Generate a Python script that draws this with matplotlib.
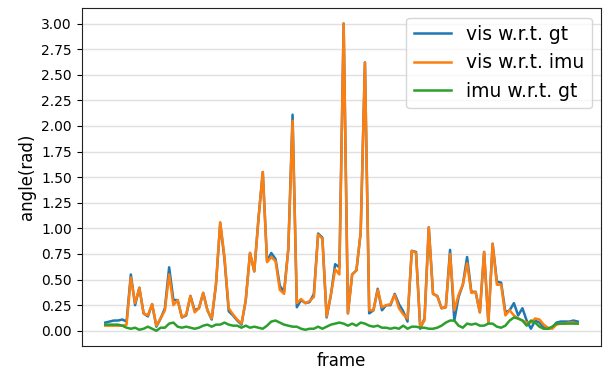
import numpy as np
import matplotlib.pyplot as plt

# rotation error per frame (rad)
vis_gt = [0.08, 0.09, 0.10, 0.10, 0.11, 0.09, 0.55, 0.25, 0.42, 0.17,
          0.14, 0.26, 0.04, 0.12, 0.22, 0.62, 0.30, 0.30, 0.13, 0.15,
          0.34, 0.20, 0.22, 0.37, 0.20, 0.11, 0.45, 1.05, 0.70, 0.19,
          0.15, 0.10, 0.06, 0.30, 0.76, 0.58, 1.10, 1.55, 0.68, 0.76,
          0.70, 0.44, 0.38, 0.80, 2.11, 0.23, 0.30, 0.27, 0.28, 0.36,
          0.95, 0.91, 0.13, 0.35, 0.65, 0.62, 3.00, 0.17, 0.55, 0.59,
          0.96, 2.62, 0.17, 0.20, 0.41, 0.20, 0.25, 0.25, 0.36, 0.26,
          0.19, 0.09, 0.78, 0.77, 0.02, 0.12, 1.01, 0.36, 0.34, 0.22,
          0.23, 0.79, 0.10, 0.33, 0.45, 0.72, 0.38, 0.38, 0.18, 0.77,
          0.08, 0.85, 0.48, 0.47, 0.18, 0.20, 0.27, 0.15, 0.22, 0.10,
          0.02, 0.10, 0.08, 0.03, 0.02, 0.03, 0.08, 0.09, 0.09, 0.09,
          0.10, 0.09]
vis_imu = [0.05, 0.05, 0.05, 0.05, 0.05, 0.06, 0.52, 0.27, 0.42, 0.17,
           0.15, 0.26, 0.05, 0.12, 0.20, 0.55, 0.25, 0.30, 0.13, 0.16,
           0.34, 0.18, 0.22, 0.37, 0.20, 0.12, 0.45, 1.06, 0.72, 0.22,
           0.16, 0.11, 0.07, 0.30, 0.76, 0.58, 1.10, 1.55, 0.67, 0.72,
           0.68, 0.40, 0.36, 0.80, 2.05, 0.27, 0.31, 0.27, 0.29, 0.33,
           0.94, 0.90, 0.14, 0.35, 0.60, 0.55, 3.00, 0.17, 0.55, 0.59,
           0.96, 2.62, 0.20, 0.20, 0.40, 0.23, 0.25, 0.26, 0.35, 0.22,
           0.16, 0.12, 0.78, 0.76, 0.04, 0.10, 1.01, 0.36, 0.34, 0.22,
           0.23, 0.75, 0.20, 0.35, 0.45, 0.66, 0.37, 0.38, 0.18, 0.77,
           0.08, 0.85, 0.45, 0.45, 0.15, 0.20, 0.15, 0.12, 0.10, 0.08,
           0.08, 0.12, 0.11, 0.06, 0.03, 0.02, 0.06, 0.07, 0.07, 0.08,
           0.08, 0.07]
imu_gt = [0.06, 0.06, 0.06, 0.06, 0.05, 0.03, 0.02, 0.03, 0.01, 0.02,
          0.04, 0.02, 0.00, 0.03, 0.03, 0.07, 0.08, 0.04, 0.03, 0.04,
          0.03, 0.02, 0.03, 0.05, 0.06, 0.04, 0.06, 0.06, 0.08, 0.06,
          0.05, 0.05, 0.03, 0.05, 0.03, 0.04, 0.03, 0.02, 0.05, 0.09,
          0.10, 0.08, 0.06, 0.05, 0.04, 0.04, 0.02, 0.01, 0.02, 0.02,
          0.04, 0.02, 0.04, 0.06, 0.07, 0.08, 0.07, 0.05, 0.07, 0.05,
          0.08, 0.07, 0.05, 0.04, 0.05, 0.03, 0.03, 0.02, 0.03, 0.02,
          0.05, 0.02, 0.04, 0.04, 0.03, 0.03, 0.02, 0.02, 0.03, 0.05,
          0.08, 0.10, 0.10, 0.05, 0.03, 0.07, 0.06, 0.07, 0.05, 0.05,
          0.07, 0.07, 0.04, 0.03, 0.05, 0.10, 0.13, 0.12, 0.10, 0.05,
          0.10, 0.08, 0.04, 0.02, 0.02, 0.04, 0.07, 0.07, 0.07, 0.07,
          0.07, 0.07]

frames = np.arange(len(vis_gt))

fig, ax = plt.subplots(figsize=(6.05, 3.71), dpi=100)
fig.subplots_adjust(left=0.135, right=0.994, top=0.978, bottom=0.067)

ax.plot(frames, vis_gt, lw=1.8, label='vis w.r.t. gt')
ax.plot(frames, vis_imu, lw=1.8, label='vis w.r.t. imu')
ax.plot(frames, imu_gt, lw=1.8, label='imu w.r.t. gt')

ax.set_yticks(np.arange(0, 3.01, 0.25))
ax.set_xticks([])
ax.grid(axis='y', color='#e0e0e0', lw=1)
ax.set_axisbelow(True)
for s in ax.spines.values():
    s.set_color('#222222')
ax.set_ylabel('angle(rad)', fontsize=12)
ax.set_xlabel('frame', fontsize=12)
ax.legend(loc='upper right', fontsize=13.5)

fig.savefig('out.png')
